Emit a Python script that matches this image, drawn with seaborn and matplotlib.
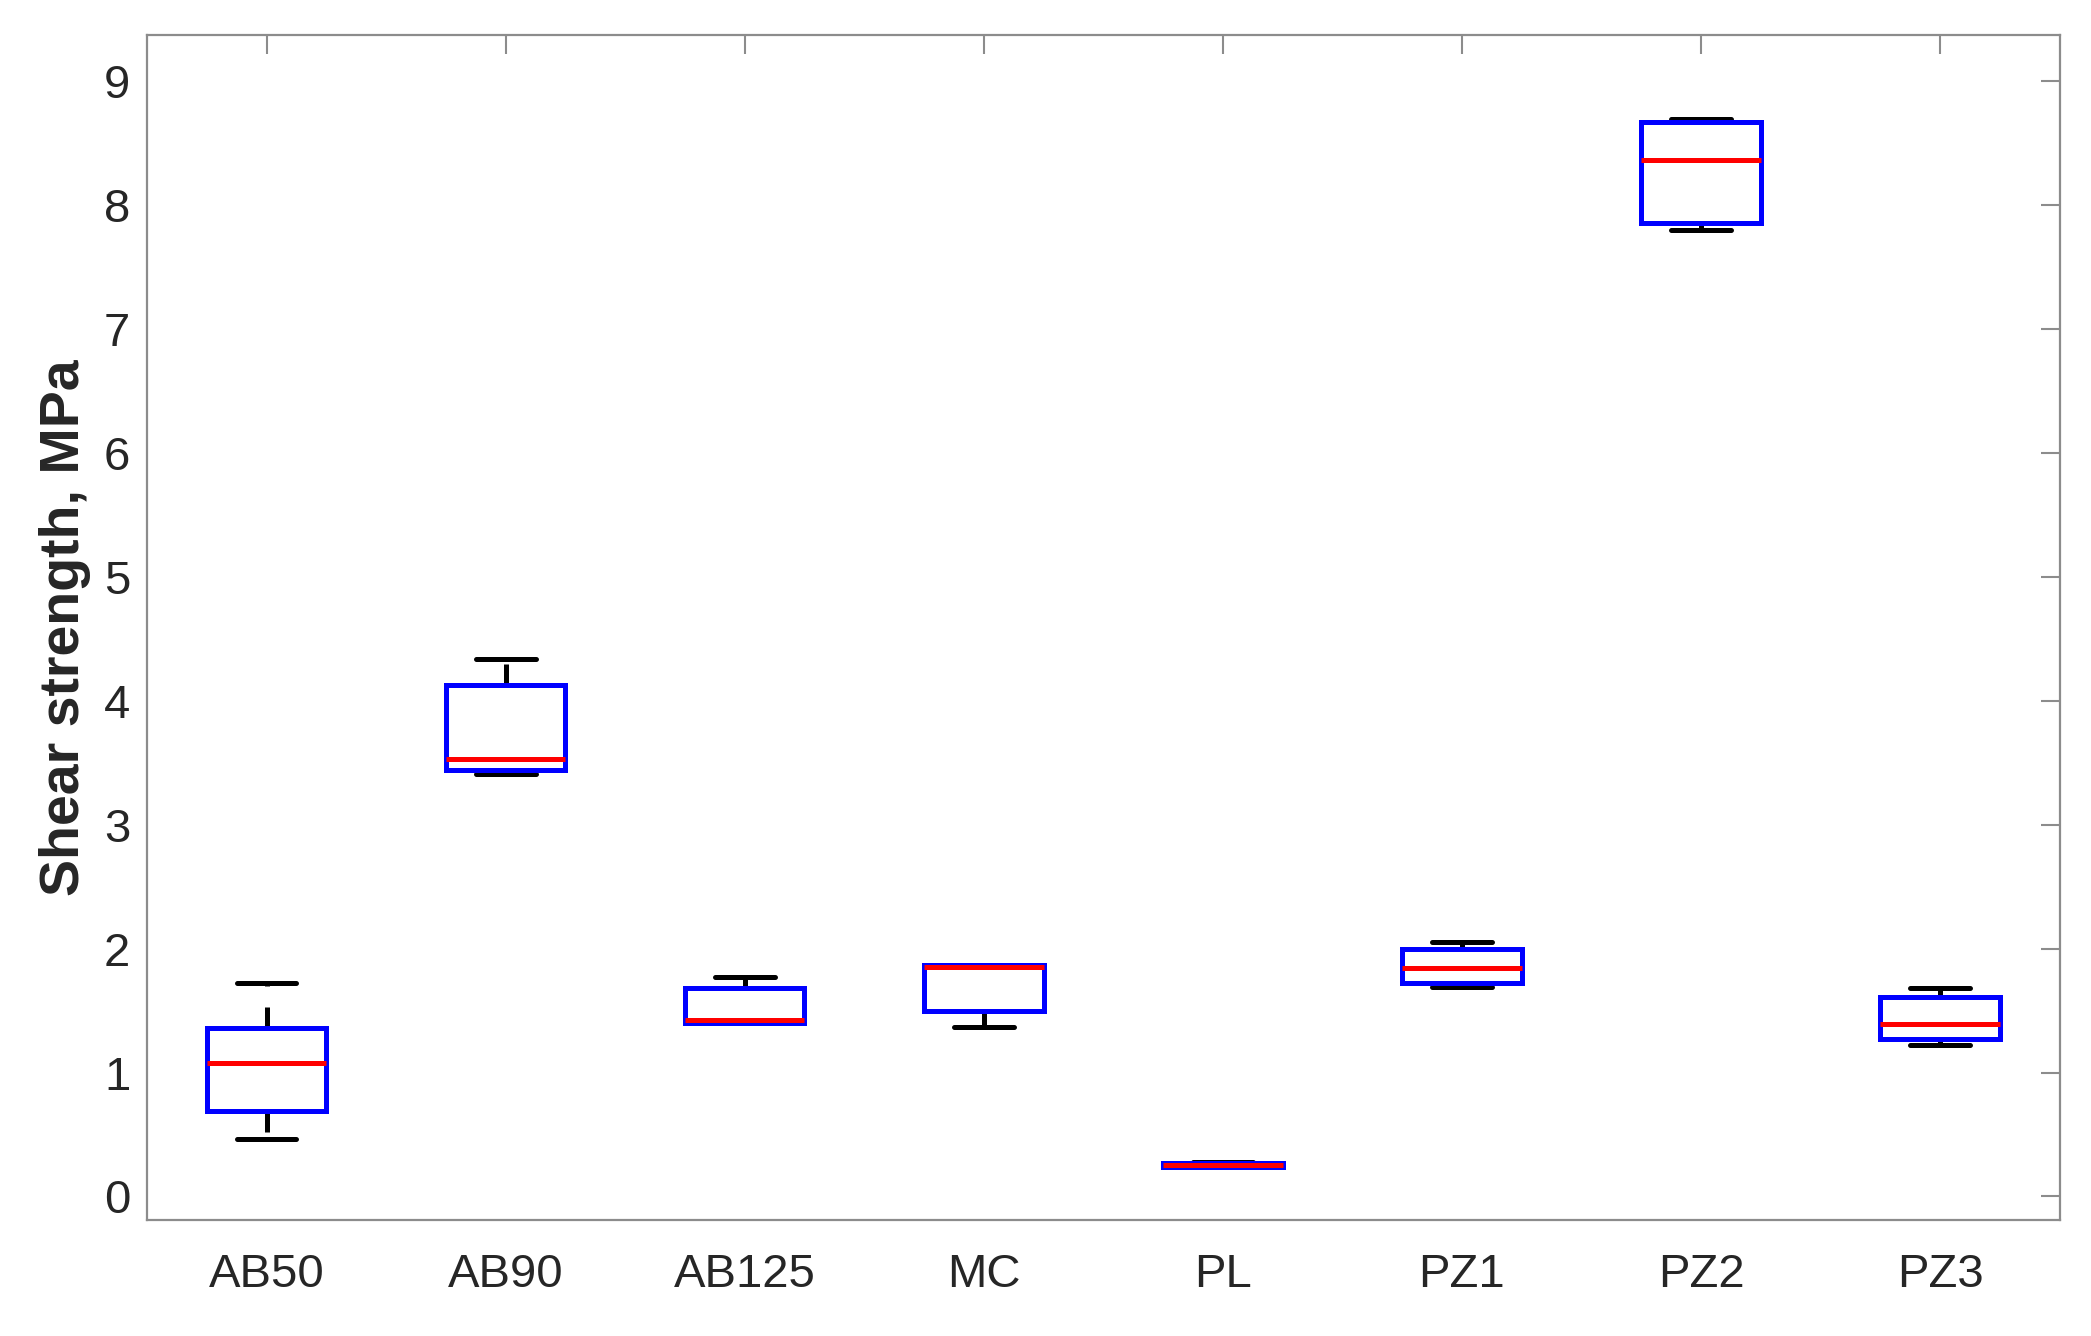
import numpy as np
import pandas as pd
import matplotlib
matplotlib.use("Agg")
import matplotlib.pyplot as plt
import seaborn as sns

# Five-number summaries: min, q1, median, q3, max
categories = ["AB50", "AB90", "AB125", "MC", "PL", "PZ1", "PZ2", "PZ3"]
mins    = [0.46, 3.41, 1.40, 1.37, 0.24, 1.69, 7.80, 1.22]
q1s     = [0.69, 3.44, 1.40, 1.50, 0.24, 1.72, 7.85, 1.27]
medians = [1.08, 3.53, 1.42, 1.85, 0.25, 1.84, 8.36, 1.39]
q3s     = [1.36, 4.13, 1.68, 1.87, 0.27, 2.00, 8.67, 1.61]
maxs    = [1.72, 4.34, 1.77, 1.87, 0.28, 2.05, 8.69, 1.68]
yticks = list(range(0, 10))

rows = []
for c, a, b, m, d, e in zip(categories, mins, q1s, medians, q3s, maxs):
    for v in (a, b, m, d, e):
        rows.append({"group": c, "value": v})
df = pd.DataFrame(rows)

sns.set_theme(style="white")
plt.rcParams["font.family"] = ["Liberation Sans", "DejaVu Sans"]

fig = plt.figure(figsize=(20.91, 13.36), dpi=100)
ax = fig.add_axes([0.0703, 0.0868, 0.9147, 0.887])

lw = 3.6
sns.boxplot(
    data=df, x="group", y="value", order=categories, ax=ax,
    whis=(0, 100), width=0.5, linewidth=lw, showfliers=False,
    boxprops=dict(edgecolor="#0000ff", facecolor="white", linewidth=lw, zorder=3),
    medianprops=dict(color="#ff0000", linewidth=lw, zorder=4),
    whiskerprops=dict(color="black", linewidth=lw, linestyle=(0, (4.2, 4.2)), zorder=2),
    capprops=dict(color="black", linewidth=lw, zorder=2),
)

ax.set_xlim(-0.5, 7.5)
ax.set_ylim(-0.19, 9.37)
ax.set_yticks(yticks)
ax.set_xlabel("")
ax.set_ylabel("Shear strength, MPa", fontsize=40, fontweight="bold",
              color="#262626", labelpad=9)

for s in ax.spines.values():
    s.set_visible(True)
    s.set_color("#8c8c8c")
    s.set_linewidth(1.6)

ax.tick_params(axis="both", direction="in", top=True, right=True,
               length=14, width=1.5, color="#8c8c8c",
               labelcolor="#262626", labelsize=34)
ax.tick_params(axis="x", pad=24)
ax.tick_params(axis="y", pad=12)

fig.savefig("out.png", dpi=100)
